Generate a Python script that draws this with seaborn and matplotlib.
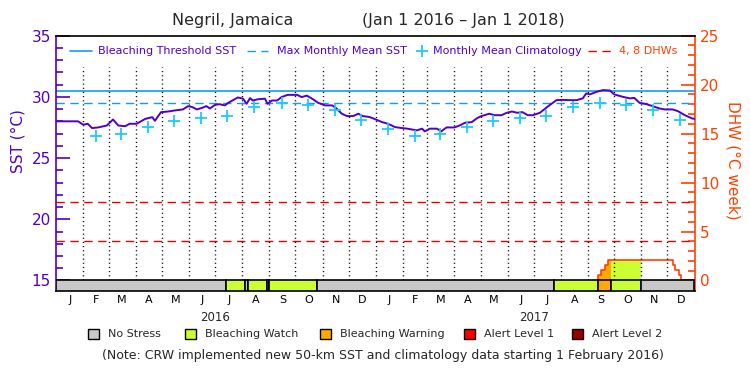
import pandas as pd
import matplotlib
matplotlib.use("Agg")
import matplotlib.pyplot as plt
import matplotlib.dates as mdates
from matplotlib.lines import Line2D
from matplotlib.patches import Rectangle
from matplotlib.ticker import FixedLocator
import seaborn as sns

sns.set_theme(style="white")
plt.rcParams["font.family"] = ["DejaVu Sans"]

PURPLE = "#5000c8"
ORANGE = "#ff4000"
BLUE = "#1499f5"
CYAN = "#1ec8ff"
RED = "#ee0000"

start = pd.Timestamp("2016-01-01")
end = pd.Timestamp("2018-01-01")

# daily SST (days since 1 Jan 2016)
sst_day = [0, 25, 31, 36, 41, 48, 58, 65, 71, 79, 84, 92, 102, 110, 113, 120, 128, 136, 145, 151,
           156, 161, 167, 172, 176, 182, 187, 193, 197, 208, 214, 218, 222, 225, 231, 239, 242, 247, 253, 258,
           265, 276, 281, 287, 293, 300, 308, 316, 321, 327, 333, 340, 346, 351, 359, 365, 373, 380, 388, 396,
           402, 413, 419, 422, 428, 436, 441, 447, 456, 462, 468, 476, 482, 487, 496, 502, 510, 516, 522, 528,
           534, 540, 546, 554, 565, 573, 580, 588, 596, 603, 607, 611, 619, 626, 634, 639, 649, 657, 662, 668,
           676, 683, 691, 697, 706, 712, 720, 728, 731]
sst_val = [28.0, 28.0, 27.72, 27.8, 27.45, 27.5, 27.66, 28.15, 27.66, 27.6, 27.8, 27.8, 28.2, 28.34, 28.04, 28.75, 28.8, 28.89, 28.97, 29.24,
           29.16, 28.97, 29.1, 29.24, 29.05, 29.35, 29.4, 29.3, 29.51, 29.95, 29.85, 29.43, 29.9, 29.7, 29.8, 29.85, 29.43, 29.7, 29.7, 29.98,
           30.16, 30.16, 29.98, 30.1, 29.85, 29.51, 29.3, 29.3, 29.05, 28.62, 28.43, 28.43, 28.62, 28.43, 28.35, 28.18, 27.94, 27.8, 27.53, 27.45,
           27.4, 27.26, 27.4, 27.18, 27.4, 27.4, 27.18, 27.5, 27.5, 27.66, 27.88, 27.94, 28.26, 28.43, 28.62, 28.5, 28.5, 28.7, 28.8, 28.7,
           28.75, 28.5, 28.5, 28.7, 29.32, 29.73, 29.75, 29.73, 29.73, 29.87, 30.28, 30.2, 30.41, 30.55, 30.52, 30.2, 30.0, 29.87, 29.92, 29.51,
           29.4, 29.24, 29.05, 28.97, 28.97, 28.83, 28.5, 28.24, 28.2]

clim_date = ["2016-02-15", "2016-03-15", "2016-04-15", "2016-05-15", "2016-06-15", "2016-07-15",
             "2016-08-15", "2016-09-15", "2016-10-15", "2016-11-15", "2016-12-15",
             "2017-01-15", "2017-02-15", "2017-03-15", "2017-04-15", "2017-05-15", "2017-06-15",
             "2017-07-15", "2017-08-15", "2017-09-15", "2017-10-15", "2017-11-15", "2017-12-15"]
clim_val = [26.8, 26.96, 27.57, 28.06, 28.31, 28.46, 29.15, 29.46, 29.32, 28.91, 28.1,
            27.36, 26.8, 26.96, 27.57, 28.06, 28.31, 28.46, 29.15, 29.46, 29.32, 28.91, 28.1]

mmm = 29.46
threshold = 30.5
dhw_levels = [4, 8]

stress_start = ["2016-01-01", "2016-07-13", "2016-08-04", "2016-08-08", "2016-08-29", "2016-09-01",
                "2016-10-26", "2017-07-24", "2017-09-13", "2017-09-27", "2017-11-01"]
stress_level = ["No Stress", "Bleaching Watch", "No Stress", "Bleaching Watch", "No Stress", "Bleaching Watch",
                "No Stress", "Bleaching Watch", "Bleaching Warning", "Bleaching Watch", "No Stress"]

dhw_date = ["2017-09-13", "2017-09-13", "2017-09-16", "2017-09-20", "2017-09-24",
            "2017-12-07", "2017-12-10", "2017-12-14", "2017-12-17"]
dhw_val = [0.0, 0.54, 1.09, 1.63, 2.1, 1.63, 1.09, 0.54, 0.0]

level_names = ["No Stress", "Bleaching Watch", "Bleaching Warning", "Alert Level 1", "Alert Level 2"]
level_colors = ["#c8c8c8", "#ccff33", "#ffaa00", "#ff0000", "#990000"]
color_of = dict(zip(level_names, level_colors))

months = ["J", "F", "M", "A", "M", "J", "J", "A", "S", "O", "N", "D"] * 2

# SST axis (14.14..35) and DHW axis share the same pixels: DHW = (SST - 15) * 1.25
sst_lo, sst_hi = 14.14, 35

sst = pd.DataFrame({"date": start + pd.to_timedelta(sst_day, unit="D"), "sst": sst_val})
clim = pd.DataFrame({"date": pd.to_datetime(clim_date), "sst": clim_val})

fig = plt.figure(figsize=(7.5, 3.75), dpi=100)
ax = fig.add_axes([0.075, 0.224, 0.851, 0.681])
ax2 = ax.twinx()
ax.set_zorder(ax2.get_zorder() + 1)
ax.patch.set_visible(False)

ax.set_ylim(sst_lo, sst_hi)
ax2.set_ylim((sst_lo - 15) * 1.25, (sst_hi - 15) * 1.25)
ax.set_xlim(start, end)

# DHW area coloured by stress level
days = pd.date_range("2017-09-13", "2017-12-17", freq="D")
dhw_s = pd.Series(dhw_val[1:], index=pd.to_datetime(dhw_date[1:])).reindex(days, method="ffill")
lvl_s = pd.Series(stress_level, index=pd.to_datetime(stress_start)).reindex(days, method="ffill")
for name in ["Bleaching Warning", "Bleaching Watch"]:
    mask = (lvl_s == name) | (lvl_s.shift(1) == name)
    ax2.fill_between(days, 0, dhw_s.values, where=mask.values, step="post",
                     color=color_of[name], linewidth=0)
ax2.plot(pd.to_datetime(dhw_date), dhw_val, drawstyle="steps-post", color=ORANGE, lw=1.2)
for lv in dhw_levels:
    ax2.axhline(lv, color=RED, lw=1.0, dashes=(6, 4))

# month separators
month_starts = pd.date_range("2016-02-01", "2017-12-01", freq="MS")
ax.vlines(month_starts, 15, 32.4, colors="black", linestyles=(0, (0.8, 2.2)), lw=1.0)

ax.axhline(threshold, color=BLUE, lw=1.2)
ax.axhline(mmm, color=BLUE, lw=1.0, dashes=(6, 4))

sns.lineplot(data=sst, x="date", y="sst", ax=ax, color=PURPLE, lw=1.4, legend=False)
sns.scatterplot(data=clim, x="date", y="sst", ax=ax, marker="+", s=70, linewidth=1.3,
                color=CYAN, legend=False, zorder=5)

# stress bar
st = pd.to_datetime(stress_start)
en = pd.DatetimeIndex(list(st[1:]) + [end])
x0 = mdates.date2num(st)
widths = mdates.date2num(en) - x0
ax.bar(x0, [15 - sst_lo] * len(x0), width=widths, bottom=sst_lo, align="edge",
       color=[color_of[l] for l in stress_level], edgecolor="black", linewidth=1.2, zorder=6)

# axes styling
ax.set_xlabel("")
ax.set_ylabel("")
m_start = pd.date_range(start, periods=24, freq="MS")
m_end = pd.date_range("2016-02-01", periods=24, freq="MS")
mids = m_start + (m_end - m_start) / 2
ax.set_xticks(mids)
ax.set_xticklabels(months)
ax.tick_params(axis="x", length=0, pad=3, labelsize=8, labelcolor="black")
ax.set_yticks(range(15, 36, 5))
ax.yaxis.set_minor_locator(FixedLocator(range(15, 36)))
ax.tick_params(axis="y", which="major", direction="in", length=10, width=1.2, color=PURPLE,
               labelcolor=PURPLE, labelsize=11, pad=4, left=True)
ax.tick_params(axis="y", which="minor", direction="in", length=5, width=1.2, color=PURPLE, left=True)
ax2.set_yticks(range(0, 26, 5))
ax2.yaxis.set_minor_locator(FixedLocator(range(0, 26)))
ax2.tick_params(axis="y", which="major", direction="in", length=10, width=1.2, color=ORANGE,
                labelcolor=ORANGE, labelsize=11, pad=4, right=True)
ax2.tick_params(axis="y", which="minor", direction="in", length=5, width=1.2, color=ORANGE, right=True)
ax2.grid(False)
ax.grid(False)

for s in ["top", "bottom"]:
    ax.spines[s].set_color("black")
    ax.spines[s].set_linewidth(1.2)
ax.spines["left"].set_color(PURPLE)
ax.spines["left"].set_linewidth(1.2)
ax.spines["right"].set_visible(False)
for s in ["top", "bottom", "left"]:
    ax2.spines[s].set_visible(False)
ax2.spines["right"].set_color(ORANGE)
ax2.spines["right"].set_linewidth(1.2)

# year labels
ax.text(pd.Timestamp("2016-07-01"), -0.105, "2016", transform=ax.get_xaxis_transform(),
        ha="center", va="center", size=8.5)
ax.text(pd.Timestamp("2017-07-01"), -0.105, "2017", transform=ax.get_xaxis_transform(),
        ha="center", va="center", size=8.5)


def fx(px):
    return px / 750


def fy(py):
    return 1 - py / 375


# titles and axis labels
fig.text(fx(233), fy(20), "Negril, Jamaica", ha="center", va="center", size=11.5)
fig.text(fx(463), fy(20), "(Jan 1 2016 – Jan 1 2018)", ha="center", va="center", size=11.5)
fig.text(fx(18), fy(141), "SST (°C)", rotation=90, ha="center", va="center", size=11, color=PURPLE)
fig.text(fx(733), fy(160), "DHW (°C week)", rotation=270, ha="center", va="center", size=11, color=ORANGE)

# top legend
ly = fy(51)
fig.add_artist(Line2D([fx(70), fx(92)], [ly, ly], color=BLUE, lw=1.2))
fig.text(fx(98), ly, "Bleaching Threshold SST", va="center", size=8, color=PURPLE)
fig.add_artist(Line2D([fx(247), fx(268)], [ly, ly], color=BLUE, lw=1.0, dashes=(6, 4)))
fig.text(fx(277), ly, "Max Monthly Mean SST", va="center", size=8, color=PURPLE)
fig.add_artist(Line2D([fx(422)], [ly], color=CYAN, marker="+", ms=8, mew=1.3, ls="none"))
fig.text(fx(433), ly, "Monthly Mean Climatology", va="center", size=8, color=PURPLE)
fig.add_artist(Line2D([fx(588), fx(613)], [ly, ly], color=RED, lw=1.0, dashes=(6, 4)))
fig.text(fx(619), ly, "4, 8 DHWs", va="center", size=8, color=ORANGE)

# bottom legend
by = 334
for px, name, col in zip([88, 185, 320, 464, 572], level_names, level_colors):
    fig.add_artist(Rectangle((fx(px), fy(by + 5)), 11 / 750, 10 / 375, transform=fig.transFigure,
                             facecolor=col, edgecolor="black", lw=1.0))
    fig.text(fx(px + 20), fy(by), name, va="center", size=8)

fig.text(fx(383), fy(355), "(Note: CRW implemented new 50-km SST and climatology data starting 1 February 2016)",
         ha="center", va="center", size=9)

fig.savefig("out.png", dpi=100)
